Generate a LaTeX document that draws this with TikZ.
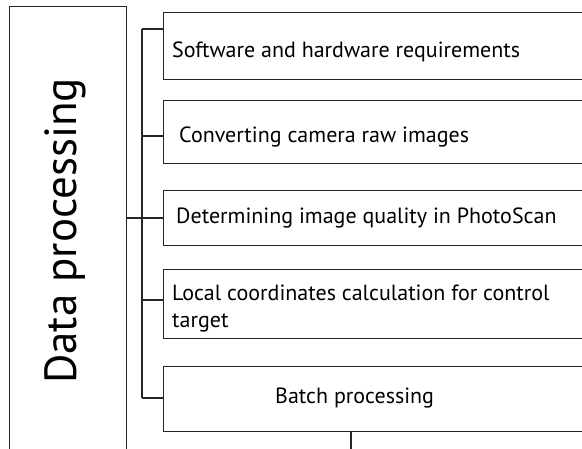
\documentclass[tikz,border=0pt]{standalone}
\usepackage{fontspec}
\setmainfont{PT Sans}
\begin{document}
\begin{tikzpicture}[x=1pt,y=-1pt,
  frame/.style={draw=black!85,line width=1.3pt,rectangle,inner sep=0pt,anchor=north west},
  link/.style={draw=black!85,line width=1.3pt},
  itemtext/.style={anchor=base west,inner sep=0pt,font=\fontsize{22}{27}\selectfont,align=left},
  titletext/.style={anchor=base,inner sep=0pt,rotate=90,font=\fontsize{45}{50}\selectfont}]
\useasboundingbox (0,0) rectangle (582,448);
\clip (0,0) rectangle (582,448);
% main block on the left
\node[frame,minimum width=117,minimum height=480] (main) at (9,6) {};
\node[titletext] (title) at (76,231) {Data processing};
% step blocks
\node[frame,minimum width=440,minimum height=67] (b1) at (163,12) {};
\node[frame,minimum width=440,minimum height=63] (b2) at (163,100) {};
\node[frame,minimum width=440,minimum height=55] (b3) at (163,190) {};
\node[frame,minimum width=440,minimum height=69] (b4) at (163,269) {};
\node[frame,minimum width=440,minimum height=65] (b5) at (163,366) {};
\node[itemtext] (l1) at (172,57) {Software and hardware requirements};
\node[itemtext] (l2) at (179,142) {Converting camera raw images};
\node[itemtext] (l3) at (176,223) {Determining image quality in PhotoScan};
\node[itemtext] (l4) at (172,327) {Local coordinates calculation for control\\target};
\node[itemtext] (l5) at (275,403) {Batch processing};
% bracket joining the blocks
\coordinate (t1) at (142,29);
\coordinate (t2) at (142,136);
\coordinate (t3) at (142,218);
\coordinate (t4) at (142,300);
\coordinate (t5) at (142,398);
\draw[link] (t1) -- (t5);
\draw[link] (t3 -| main.east) -- (t3);
\draw[link] (t1) -- (t1 -| b1.west);
\draw[link] (t2) -- (t2 -| b2.west);
\draw[link] (t3) -- (t3 -| b3.west);
\draw[link] (t4) -- (t4 -| b4.west);
\draw[link] (t5) -- (t5 -| b5.west);
\coordinate (down) at ([xshift=188pt]b5.south west);
\draw[link] (down) -- ++(0,25);
\end{tikzpicture}
\end{document}
